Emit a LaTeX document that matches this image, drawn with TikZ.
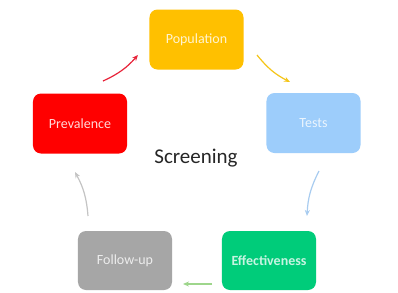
\documentclass[tikz,border=0pt]{standalone}
\usepackage{fontspec}
\setmainfont{Carlito}
\usetikzlibrary{arrows.meta}
\definecolor{cpop}{HTML}{FFC000}
\definecolor{ctest}{HTML}{9DCDFB}
\definecolor{cprev}{HTML}{FF0000}
\definecolor{cfol}{HTML}{A6A6A6}
\definecolor{ceff}{HTML}{00CC7A}
\definecolor{apop}{HTML}{F5C518}
\definecolor{atest}{HTML}{A8CCF0}
\definecolor{aeff}{HTML}{9ED68C}
\definecolor{afol}{HTML}{C4C4C4}
\definecolor{aprev}{HTML}{E8243A}
\definecolor{ctxt}{HTML}{262626}
\tikzset{
  stepbox/.style={rectangle, rounded corners=8bp, minimum width=94bp, minimum height=60bp,
    inner sep=0pt, font=\fontsize{14bp}{16bp}\selectfont},
  cyc/.style={line width=1.2bp, -{Stealth[length=6bp,width=5bp]}},
}
\begin{document}
\begin{tikzpicture}[x=1bp,y=-1bp]
\useasboundingbox (0,0) rectangle (398,293);
\fill[white] (0,0) rectangle (398,293);
\node[stepbox, fill=cpop, text=white!82!cpop] (pop) at (196.5,39.5) {Population};
\node[stepbox, fill=ctest, text=white!80!ctest] (tests) at (313.5,123) {Tests};
\node[stepbox, fill=cprev, text=white!85!cprev] (prev) at (80,123.5) {Prevalence};
\node[stepbox, fill=cfol, text=white!80!cfol, minimum height=59bp] (fol) at (125,260.5) {Follow-up};
\node[stepbox, fill=ceff, text=white!78!ceff, minimum height=59bp, font=\fontsize{14bp}{16bp}\selectfont\bfseries] (eff) at (269,260.5) {Effectiveness};
\node[text=ctxt, font=\fontsize{21bp}{24bp}\selectfont, inner sep=0pt] (scr) at (196,158) {Screening};
\coordinate (r1) at (103,81); \coordinate (r2) at (138,55);
\coordinate (y1) at (257,55); \coordinate (y2) at (290,82);
\coordinate (b1) at (319,171); \coordinate (b2) at (307,216);
\coordinate (g1) at (212,284); \coordinate (g2) at (183,284);
\coordinate (f1) at (88,216); \coordinate (f2) at (75,172);
\draw[cyc, aprev] (r1) to[bend right=12] (r2);
\draw[cyc, apop] (y1) to[bend right=12] (y2);
\draw[cyc, atest] (b1) to[bend right=12] (b2);
\draw[cyc, aeff] (g1) -- (g2);
\draw[cyc, afol] (f1) to[bend right=12] (f2);
\end{tikzpicture}
\end{document}
